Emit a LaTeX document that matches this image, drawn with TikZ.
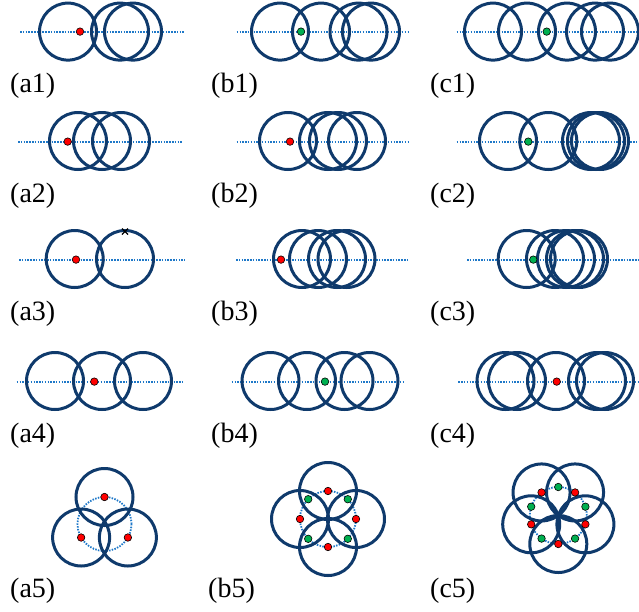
\documentclass[tikz,border=0pt]{standalone}
\usepackage{fontspec}
\setmainfont{Liberation Serif}
\definecolor{ringblue}{RGB}{15,58,108}
\definecolor{axisblue}{RGB}{30,120,200}
\definecolor{dotred}{RGB}{255,0,0}
\definecolor{dotgreen}{RGB}{0,176,80}
\newcommand{\ringr}{28.5pt}

\begin{document}
\begin{tikzpicture}[x=1pt,y=-1pt,
  ring/.style={draw=ringblue,line width=3pt},
  axis/.style={draw=axisblue,line width=1.8pt,dash pattern=on 1.5pt off 1.3pt},
  rdot/.style={circle,draw=black,line width=0.6pt,fill=dotred,inner sep=0pt,minimum size=7.5pt},
  gdot/.style={rdot,fill=dotgreen},
  lbl/.style={anchor=base west,inner sep=0pt,font=\fontsize{28}{30}\selectfont}]
  \useasboundingbox (0,0) rectangle (639,611);

  % row 1
  \draw[axis] (20,31.6) -- (185,31.6);
  \draw[axis] (236.7,31.6) -- (408,31.6);
  \draw[axis] (456.7,31.6) -- (639,31.6);
  \foreach \cx in {68,120,133} \draw[ring] (\cx,31.6) circle[radius=\ringr];
  \foreach \cx in {280,321,358.5,371} \draw[ring] (\cx,31.6) circle[radius=\ringr];
  \foreach \cx in {493,527,567,595,610} \draw[ring] (\cx,31.6) circle[radius=\ringr];
  \node[rdot] (da1) at (80,31.6) {};
  \node[gdot] (db1) at (301,31.6) {};
  \node[gdot] (dc1) at (546.7,31.6) {};
  \node[lbl] (la1) at (10,92) {(a1)};
  \node[lbl] (lb1) at (211,92) {(b1)};
  \node[lbl] (lc1) at (430,92) {(c1)};

  % row 2
  \draw[axis] (18,141.6) -- (183,141.6);
  \draw[axis] (236.7,141.6) -- (408,141.6);
  \draw[axis] (456.7,141.6) -- (639,141.6);
  \foreach \cx in {78,102,121} \draw[ring] (\cx,141) circle[radius=\ringr];
  \foreach \cx in {288,328,338,357} \draw[ring] (\cx,141) circle[radius=\ringr];
  \foreach \cx in {508,548.3,591,596,600} \draw[ring] (\cx,141) circle[radius=\ringr];
  \node[rdot] (da2) at (67.7,141.6) {};
  \node[rdot] (db2) at (290,141.6) {};
  \node[gdot] (dc2) at (528.3,141.6) {};
  \node[lbl] (la2) at (10,202) {(a2)};
  \node[lbl] (lb2) at (211,202) {(b2)};
  \node[lbl] (lc2) at (430,202) {(c2)};

  % row 3
  \draw[axis] (19,259.6) -- (185,259.6);
  \draw[axis] (236,259.6) -- (407,259.6);
  \draw[axis] (467,259.6) -- (639,259.6);
  \foreach \cx in {74.7,125} \draw[ring] (\cx,259) circle[radius=\ringr];
  \foreach \cx in {302,318,337,346.5} \draw[ring] (\cx,259) circle[radius=\ringr];
  \foreach \cx in {526.7,555,566,575,579} \draw[ring] (\cx,259) circle[radius=\ringr];
  \node[rdot] (da3) at (76,259.6) {};
  \node[rdot] (db3) at (281,259.6) {};
  \node[gdot] (dc3) at (533.3,259.6) {};
  \draw[line width=1.1pt] (122,228.5) -- (128,234.5) (122,234.5) -- (128,228.5);
  \node[lbl] (la3) at (10,320) {(a3)};
  \node[lbl] (lb3) at (211,320) {(b3)};
  \node[lbl] (lc3) at (430,320) {(c3)};

  % row 4
  \draw[axis] (16.7,381.6) -- (182.7,381.6);
  \draw[axis] (231.7,381.6) -- (403,381.6);
  \draw[axis] (458.3,381.6) -- (639,381.6);
  \foreach \cx in {55,102,143} \draw[ring] (\cx,381) circle[radius=\ringr];
  \foreach \cx in {270.5,307,344.5,369.5} \draw[ring] (\cx,381) circle[radius=\ringr];
  \foreach \cx in {505.5,517,556,597,605} \draw[ring] (\cx,381) circle[radius=\ringr];
  \node[rdot] (da4) at (94.3,381.6) {};
  \node[gdot] (db4) at (325,381.6) {};
  \node[rdot] (dc4) at (556.7,381.6) {};
  \node[lbl] (la4) at (10,442) {(a4)};
  \node[lbl] (lb4) at (211,442) {(b4)};
  \node[lbl] (lc4) at (430,442) {(c4)};

  % row 5
  \begin{scope}[shift={(104.5,524)}]
    \draw[axis] (0,0) circle[radius=27pt];
    \foreach \a in {270,150,30} \draw[ring] (\a:27) circle[radius=\ringr];
    \foreach \a in {270,150,30} \node[rdot] (da5-\a) at (\a:27) {};
  \end{scope}
  \begin{scope}[shift={(328,519)}]
    \draw[axis] (0,0) circle[radius=28pt];
    \foreach \a in {270,180,0,90} \draw[ring] (\a:28) circle[radius=\ringr];
    \foreach \a in {270,180,0,90} \node[rdot] (db5-\a) at (\a:28) {};
    \foreach \a in {45,135,225,315} \node[gdot] (gb5-\a) at (\a:28) {};
  \end{scope}
  \begin{scope}[shift={(558.3,515.5)}]
    \draw[axis] (0,0) circle[radius=28.5pt];
    \foreach \a in {90,162,234,306,18} \draw[ring] (\a:28.5) circle[radius=\ringr];
    \foreach \a in {90,162,234,306,18} \node[rdot] (dc5-\a) at (\a:28.5) {};
    \foreach \a in {270,342,54,126,198} \node[gdot] (gc5-\a) at (\a:28.5) {};
  \end{scope}
  \node[lbl] (la5) at (10,597) {(a5)};
  \node[lbl] (lb5) at (208,597) {(b5)};
  \node[lbl] (lc5) at (430,597) {(c5)};
\end{tikzpicture}
\end{document}
